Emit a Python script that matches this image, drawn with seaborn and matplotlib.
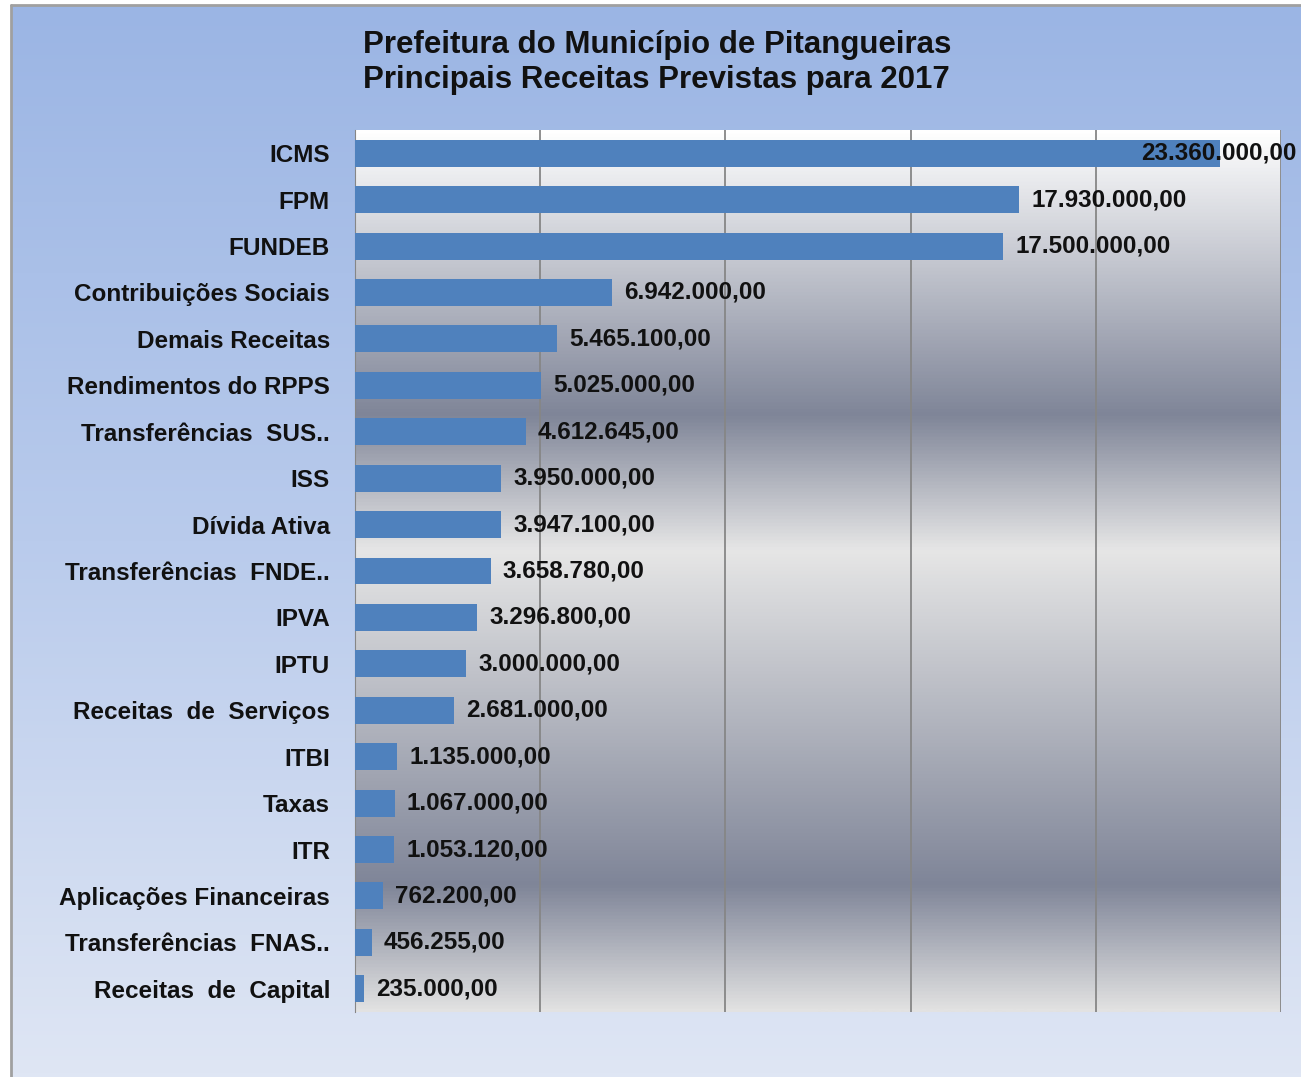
import numpy as np
import pandas as pd
import matplotlib.pyplot as plt
import seaborn as sns
from matplotlib.colors import LinearSegmentedColormap

# Dados
categorias = ['ICMS', 'FPM', 'FUNDEB', 'Contribuições Sociais', 'Demais Receitas',
              'Rendimentos do RPPS', 'Transferências  SUS..', 'ISS', 'Dívida Ativa',
              'Transferências  FNDE..', 'IPVA', 'IPTU', 'Receitas  de  Serviços', 'ITBI',
              'Taxas', 'ITR', 'Aplicações Financeiras', 'Transferências  FNAS..',
              'Receitas  de  Capital']
valores = [23360000.00, 17930000.00, 17500000.00, 6942000.00, 5465100.00,
           5025000.00, 4612645.00, 3950000.00, 3947100.00, 3658780.00,
           3296800.00, 3000000.00, 2681000.00, 1135000.00, 1067000.00,
           1053120.00, 762200.00, 456255.00, 235000.00]
titulo = 'Prefeitura do Município de Pitangueiras\nPrincipais Receitas Previstas para 2017'

df = pd.DataFrame({'categoria': categorias, 'valor': valores})


def fmt_br(v):
    s = f'{v:,.2f}'
    return s.replace(',', 'X').replace('.', ',').replace('X', '.')


sns.set_style('white')
plt.rcParams['font.family'] = ['Liberation Sans', 'DejaVu Sans']

fig = plt.figure(figsize=(13.01, 10.77), dpi=100)

# fundo externo em degradê azul
bg = fig.add_axes([11 / 1301, 0, 1 - 11 / 1301, 1 - 5 / 1077], zorder=0)
cmap_bg = LinearSegmentedColormap.from_list('bg', ['#dfe6f4', '#b9cbec', '#9bb5e4'])
bg.imshow(np.linspace(0, 1, 256).reshape(-1, 1), cmap=cmap_bg, aspect='auto',
          origin='lower', extent=(0, 1, 0, 1))
bg.set_axis_off()
fig.add_artist(plt.Line2D([11 / 1301, 11 / 1301], [0, 1 - 5 / 1077], color='#a0a0a0', lw=2))
fig.add_artist(plt.Line2D([11 / 1301, 1], [1 - 5 / 1077, 1 - 5 / 1077], color='#a0a0a0', lw=2))

ax = fig.add_axes([355 / 1301, 1 - 1012 / 1077, (1281 - 355) / 1301, (1012 - 130) / 1077], zorder=1)

# degradê da área de plotagem (0 = base, 1 = topo)
h = 1012 - 130
stops = [(0.0, '#e2e2e2'), ((1012 - 886) / h, '#7f8598'), ((1012 - 550) / h, '#e6e6e6'),
         ((1012 - 414) / h, '#7f8598'), (1.0, '#ffffff')]
cmap_pa = LinearSegmentedColormap.from_list('pa', stops)
ax.imshow(np.linspace(0, 1, 512).reshape(-1, 1), cmap=cmap_pa, aspect='auto',
          origin='lower', extent=(0, 1, 0, 1), transform=ax.transAxes, zorder=0)

sns.barplot(data=df, x='valor', y='categoria', orient='h', color='#4f81bd',
            width=0.58, saturation=1, linewidth=0, ax=ax, zorder=3)

ax.set_xlim(0, 25000000)
ax.set_ylim(len(categorias) - 0.5, -0.5)
ax.set_xticks(np.arange(0, 25000001, 5000000))
ax.set_xticklabels([])
ax.tick_params(axis='x', length=0)
ax.tick_params(axis='y', length=0, pad=18)
ax.grid(axis='x', color='#868686', lw=1.3, zorder=1)
for gl in ax.get_xgridlines():
    gl.set_zorder(1)
ax.set_xlabel('')
ax.set_ylabel('')
for sp in ax.spines.values():
    sp.set_visible(False)
ax.spines['left'].set_visible(True)
ax.spines['left'].set_color('#868686')

for lbl in ax.get_yticklabels():
    lbl.set_fontsize(17.5)
    lbl.set_fontweight('bold')
    lbl.set_color('#111111')

for i, v in enumerate(valores):
    txt = fmt_br(v)
    if v > 22000000:
        ax.annotate(txt, xy=(1, i), xycoords=('axes fraction', 'data'), xytext=(16, 0),
                    textcoords='offset pixels', ha='right', va='center', fontsize=17.5,
                    fontweight='bold', color='#111111', zorder=5, annotation_clip=False)
    else:
        ax.annotate(txt, xy=(v, i), xytext=(12, 0), textcoords='offset pixels',
                    ha='left', va='center', fontsize=17.5, fontweight='bold',
                    color='#111111', zorder=5)

fig.text(363 / 1301, 1 - 30 / 1077, titulo, ha='left', va='top', fontsize=22.5,
         fontweight='bold', color='#111111', linespacing=1.2)

fig.savefig('out.png', dpi=100)
